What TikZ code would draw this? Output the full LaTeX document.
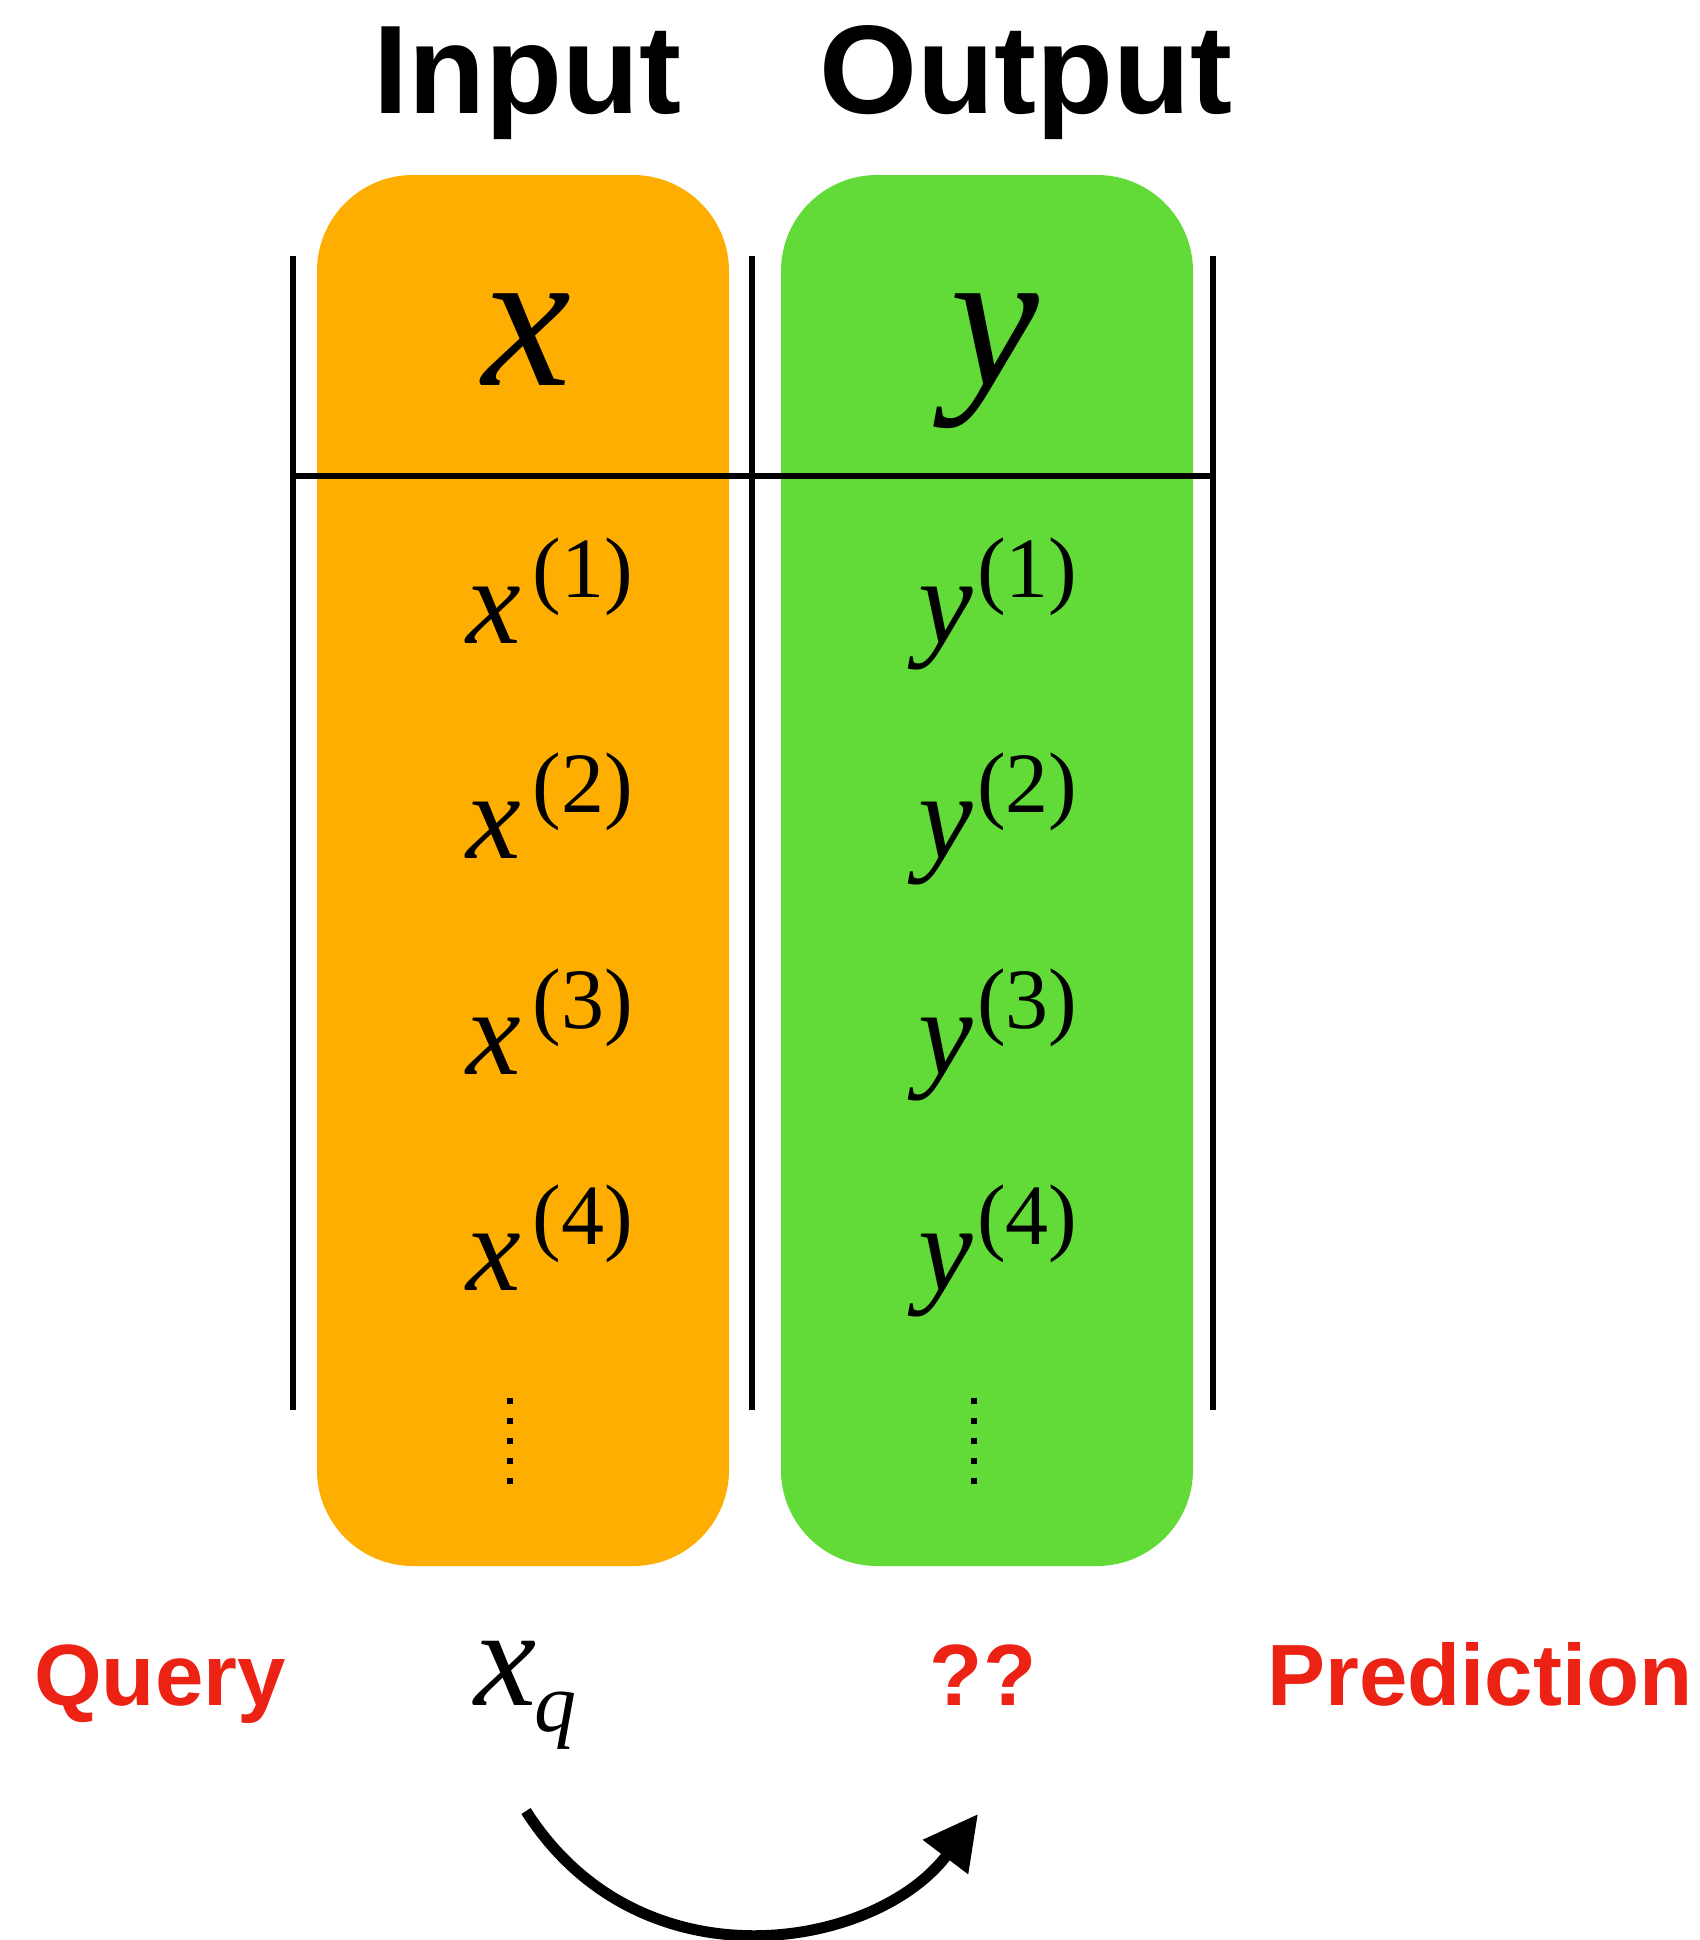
\documentclass[tikz,border=0pt]{standalone}
\usepackage{fontspec}
\setmainfont{Liberation Serif}
\newfontfamily\hv{Liberation Sans}
\usetikzlibrary{arrows.meta}
\definecolor{boxorange}{RGB}{253,174,0}
\definecolor{boxgreen}{RGB}{98,218,56}
\definecolor{labred}{RGB}{236,34,20}
\newcommand{\rowlab}[3]{{\fontsize{61.5}{61.5}\selectfont\itshape #1}\hspace{#3}\raisebox{23pt}{\fontsize{43}{43}\selectfont(#2)}}
\begin{document}
\begin{tikzpicture}[x=0.5pt,y=-0.5pt,
  colbox/.style={rounded corners=48pt},
  rule/.style={line width=2.6pt},
  title/.style={inner sep=0pt,anchor=base,font=\hv\bfseries\fontsize{63}{63}\selectfont},
  head/.style={inner sep=0pt,anchor=base,font=\itshape\fontsize{100}{100}\selectfont},
  rowtxt/.style={inner sep=0pt,anchor=base west},
  redlab/.style={inner sep=0pt,anchor=base,text=labred,font=\hv\bfseries\fontsize{43.5}{43.5}\selectfont},
  dotline/.style={line width=3.2pt,dash pattern=on 3pt off 7pt},
  curvearrow/.style={line width=5.5pt,-{Triangle[length=27pt,width=27pt]}}]
\useasboundingbox (0,0) rectangle (1700,1940);
% coloured columns
\fill[boxorange,colbox] (317,175) rectangle (729,1566);
\fill[boxgreen,colbox] (781,175) rectangle (1193,1566);
% table rules
\draw[rule] (293,256) -- (293,1410);
\draw[rule] (752,256) -- (752,1410);
\draw[rule] (1213,256) -- (1213,1410);
\draw[rule] (293,476) -- (1213,476);
% titles
\node[title] (tin) at (527,113) {Input};
\node[title] (tout) at (1026,113) {Output};
% headers
\node[head] (hx) at (527,385) {x};
\node[head] (hy) at (995,385) {y};
% rows
\node[rowtxt] (x1) at (466,643) {\rowlab{x}{1}{6pt}};
\node[rowtxt] (x2) at (466,858) {\rowlab{x}{2}{6pt}};
\node[rowtxt] (x3) at (466,1074) {\rowlab{x}{3}{6pt}};
\node[rowtxt] (x4) at (466,1290) {\rowlab{x}{4}{6pt}};
\node[rowtxt] (y1) at (918,643) {\rowlab{y}{1}{2pt}};
\node[rowtxt] (y2) at (918,858) {\rowlab{y}{2}{2pt}};
\node[rowtxt] (y3) at (918,1074) {\rowlab{y}{3}{2pt}};
\node[rowtxt] (y4) at (918,1290) {\rowlab{y}{4}{2pt}};
% vertical dots
\coordinate (dxa) at (510,1398);
\coordinate (dxb) at (510,1490);
\coordinate (dya) at (974,1398);
\coordinate (dyb) at (974,1490);
\draw[dotline] (dxa) -- (dxb);
\draw[dotline] (dya) -- (dyb);
% bottom labels
\node[redlab] (query) at (160,1705) {Query};
\node[rowtxt] (xq) at (474,1705) {{\fontsize{70}{70}\selectfont\itshape x}\hspace{-1pt}\raisebox{-13pt}{\fontsize{42}{42}\selectfont\itshape q}};
\node[redlab] (qq) at (983,1705) {??};
\node[redlab] (pred) at (1480,1705) {Prediction};
% arrow
\coordinate (as) at (526,1811);
\coordinate (ae) at (978,1814);
\draw[curvearrow] (as) .. controls (640,1990) and (875,1950) .. (ae);
\end{tikzpicture}
\end{document}
